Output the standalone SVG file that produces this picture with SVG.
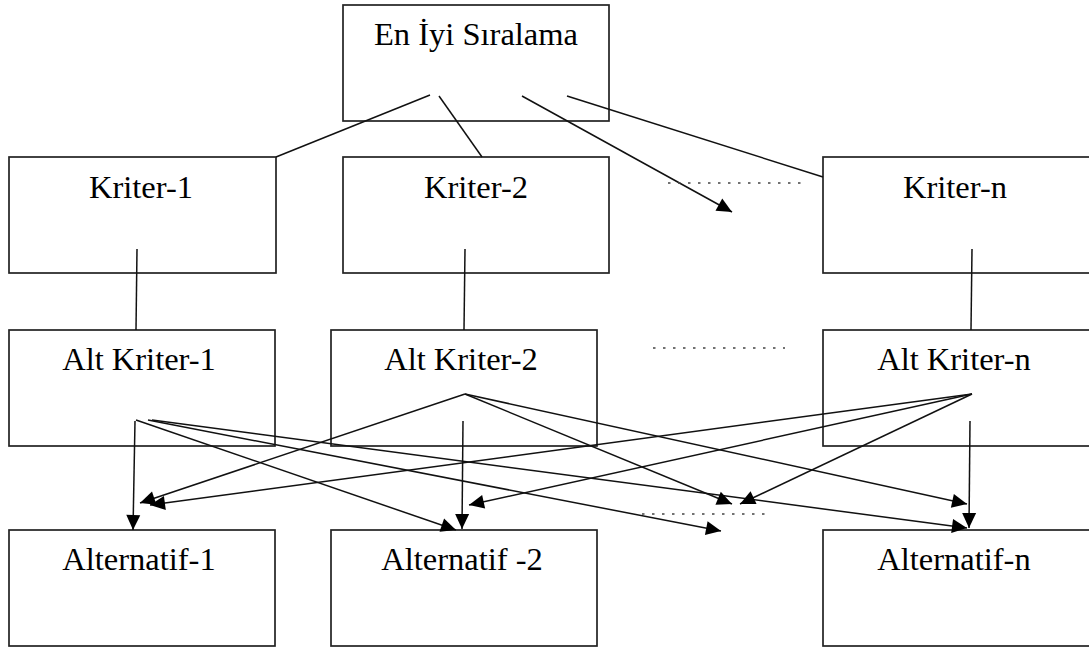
<svg xmlns="http://www.w3.org/2000/svg" width="1089" height="650" viewBox="0 0 1089 650">
<defs>
<style>
.box{fill:#fff;stroke:#222;stroke-width:1.7}
.lbl{font-size:32.5px;fill:#000;text-anchor:middle}
.c{stroke:#111;stroke-width:1.5;fill:none}
.a{stroke:#111;stroke-width:1.5;fill:none;marker-end:url(#ah)}
.dot{stroke:#444;stroke-width:1.6;stroke-dasharray:2.5 7.5;fill:none}
</style>
<marker id="ah" markerUnits="userSpaceOnUse" markerWidth="16" markerHeight="16" viewBox="0 0 16 16" refX="15" refY="8" orient="auto" overflow="visible">
<path d="M0,1 L15,8 L0,15 z" fill="#000"/>
</marker>
</defs>
<rect width="1089" height="650" fill="#fff"/>
<g font-family="'Liberation Serif', 'Times New Roman', serif">
<g id="n-top"><rect class="box" x="343" y="5" width="266" height="116"/><text class="lbl" x="476" y="45">En İyi Sıralama</text></g>
<g id="n-k1"><rect class="box" x="9" y="157" width="267" height="116"/><text class="lbl" x="141" y="198">Kriter-1</text></g>
<g id="n-k2"><rect class="box" x="343" y="157" width="266" height="116"/><text class="lbl" x="476" y="198">Kriter-2</text></g>
<g id="n-kn"><rect class="box" x="823" y="157" width="275" height="116"/><text class="lbl" x="955" y="198">Kriter-n</text></g>
<g id="n-ak1"><rect class="box" x="9" y="330" width="266" height="116"/><text class="lbl" x="139" y="370">Alt Kriter-1</text></g>
<g id="n-ak2"><rect class="box" x="331" y="330" width="266" height="116"/><text class="lbl" x="461" y="370">Alt Kriter-2</text></g>
<g id="n-akn"><rect class="box" x="823" y="330" width="275" height="116"/><text class="lbl" x="954" y="370">Alt Kriter-n</text></g>
<g id="n-a1"><rect class="box" x="9" y="530" width="266" height="116"/><text class="lbl" x="139" y="570">Alternatif-1</text></g>
<g id="n-a2"><rect class="box" x="331" y="530" width="266" height="116"/><text class="lbl" x="462" y="570">Alternatif -2</text></g>
<g id="n-an"><rect class="box" x="823" y="530" width="275" height="116"/><text class="lbl" x="954" y="570">Alternatif-n</text></g>
</g>
<g id="connectors">
<line class="c" x1="430" y1="95" x2="276" y2="157"/>
<line class="c" x1="439" y1="96" x2="482" y2="157"/>
<line class="a" x1="522" y1="96" x2="732" y2="212"/>
<line class="c" x1="567" y1="96" x2="823" y2="177"/>
<line class="c" x1="137" y1="249" x2="136" y2="330"/>
<line class="c" x1="465" y1="249" x2="464" y2="330"/>
<line class="c" x1="972" y1="249" x2="971" y2="330"/>
<line class="a" x1="135" y1="421" x2="133" y2="530"/>
<line class="a" x1="136" y1="420" x2="456" y2="530"/>
<line class="a" x1="148" y1="420" x2="721" y2="531"/>
<line class="a" x1="152" y1="420" x2="967" y2="528"/>
<line class="a" x1="463" y1="421" x2="462" y2="529"/>
<line class="a" x1="465" y1="394" x2="140" y2="503"/>
<line class="a" x1="465" y1="394" x2="732" y2="504"/>
<line class="a" x1="465" y1="394" x2="967" y2="504"/>
<line class="a" x1="970" y1="421" x2="969" y2="528"/>
<line class="a" x1="972" y1="394" x2="150" y2="505"/>
<line class="a" x1="972" y1="394" x2="469" y2="505"/>
<line class="a" x1="972" y1="394" x2="740" y2="504"/>
<line class="dot" x1="668" y1="183" x2="801" y2="183"/>
<line class="dot" x1="653" y1="348" x2="785" y2="348"/>
<line class="dot" x1="642" y1="514" x2="770" y2="514"/>
</g>
</svg>
